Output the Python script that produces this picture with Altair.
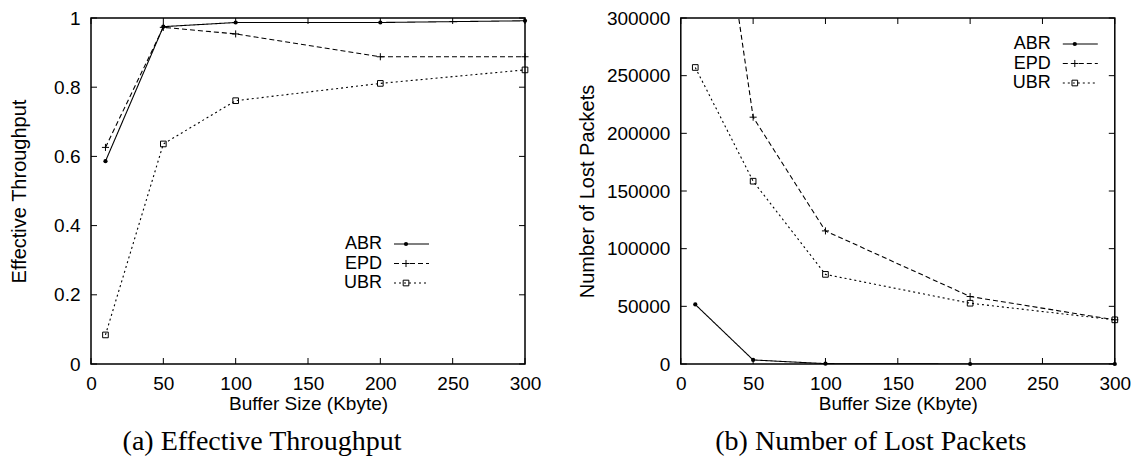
import altair as alt
import pandas as pd

# ---------------- data ----------------
buffer_kb = [10, 50, 100, 200, 300]
series = ["ABR", "EPD", "UBR"]

thr_abr = [0.586, 0.975, 0.987, 0.987, 0.992]
thr_epd = [0.626, 0.973, 0.954, 0.888, 0.888]
thr_ubr = [0.084, 0.636, 0.761, 0.811, 0.850]

lost_abr = [51600, 3500, 300, 0, 0]
lost_epd = [560000, 214000, 115400, 58500, 38300]
lost_ubr = [257100, 158500, 77700, 52700, 38300]

x_ticks = [0, 50, 100, 150, 200, 250, 300]
thr_ticks = [0, 0.2, 0.4, 0.6, 0.8, 1]
lost_ticks = [0, 50000, 100000, 150000, 200000, 250000, 300000]

caption_a = "(a) Effective Throughput"
caption_b = "(b) Number of Lost Packets"
x_title = "Buffer Size (Kbyte)"
thr_title = "Effective Throughput"
lost_title = "Number of Lost Packets"

# ---------------- style ----------------
W, H = 434, 346
FONT = "Liberation Sans"
dash = {"ABR": [1, 0], "EPD": [5, 3], "UBR": [2, 3]}
PLUS = "M-1,0L1,0M0,-1L0,1"
shape = {"ABR": "circle", "EPD": PLUS, "UBR": "square"}
pfill = {"ABR": True, "EPD": False, "UBR": False}
psize = {"ABR": 18, "EPD": 50, "UBR": 32}


def panel(values, ydom, yticks, ytitle, yfmt, caption, cap_x, leg_x, leg_y, tpad):
    xs = alt.Scale(domain=[0, 300], nice=False, zero=False)
    ys = alt.Scale(domain=ydom, nice=False, zero=False)
    xaxis = alt.Axis(title=x_title, values=x_ticks, ticks=False, domain=False, grid=False,
                     labelFontSize=19, titleFontSize=19, labelFont=FONT, titleFont=FONT,
                     labelColor="black", titleColor="black", titleFontWeight="normal",
                     labelPadding=10, titlePadding=1, labelFlush=False)
    yaxis = alt.Axis(title=ytitle, values=yticks, ticks=False, domain=False, grid=False,
                     format=yfmt, labelFontSize=19, titleFontSize=20, labelFont=FONT,
                     titleFont=FONT, labelColor="black", titleColor="black",
                     titleFontWeight="normal", labelPadding=11, titlePadding=tpad,
                     labelFlush=False)
    X = alt.X("x:Q", scale=xs, axis=xaxis)
    Y = alt.Y("y:Q", scale=ys, axis=yaxis)

    layers = []
    for s, vals in zip(series, values):
        df = pd.DataFrame({"x": buffer_kb, "y": vals, "s": s})
        layers.append(alt.Chart(df).mark_line(color="black", strokeWidth=1.1,
                                              strokeDash=dash[s], clip=True).encode(x=X, y=Y))
        layers.append(alt.Chart(df).transform_filter(
            alt.datum.y <= ydom[1]).mark_point(shape=shape[s], filled=pfill[s], size=psize[s],
                                               color="black", strokeWidth=1, opacity=1
                                               ).encode(x=X, y=Y))
    # inward ticks on all four sides
    dfx = pd.DataFrame({"x": x_ticks})
    dfy = pd.DataFrame({"y": yticks})
    L = 6
    layers.append(alt.Chart(dfx).mark_rule(color="black", strokeWidth=1).encode(
        x=X, y=alt.value(H), y2=alt.value(H - L)))
    layers.append(alt.Chart(dfx).mark_rule(color="black", strokeWidth=1).encode(
        x=X, y=alt.value(0), y2=alt.value(L)))
    layers.append(alt.Chart(dfy).mark_rule(color="black", strokeWidth=1).encode(
        y=Y, x=alt.value(0), x2=alt.value(L)))
    layers.append(alt.Chart(dfy).mark_rule(color="black", strokeWidth=1).encode(
        y=Y, x=alt.value(W), x2=alt.value(W - L)))

    # legend (label left of sample, gnuplot style)
    for i, s in enumerate(series):
        yy = leg_y + 19.5 * i
        dfl = pd.DataFrame({"name": [s]})
        layers.append(alt.Chart(dfl).mark_text(align="right", baseline="middle", fontSize=18,
                                               font=FONT, color="black").encode(
            text="name:N", x=alt.value(leg_x), y=alt.value(yy)))
        layers.append(alt.Chart(dfl).mark_rule(color="black", strokeWidth=1.1,
                                               strokeDash=dash[s]).encode(
            x=alt.value(leg_x + 12), x2=alt.value(leg_x + 47), y=alt.value(yy)))
        layers.append(alt.Chart(dfl).mark_point(shape=shape[s], filled=pfill[s], size=psize[s],
                                                color="black", strokeWidth=1, opacity=1).encode(
            x=alt.value(leg_x + 24), y=alt.value(yy)))
    # caption
    layers.append(alt.Chart(pd.DataFrame({"c": [caption]})).mark_text(
        align="center", baseline="alphabetic", fontSize=28, font="Liberation Serif",
        color="black").encode(text="c:N", x=alt.value(cap_x), y=alt.value(H + 86)))

    return alt.layer(*layers).properties(width=W, height=H)


left = panel([thr_abr, thr_epd, thr_ubr], [0, 1], thr_ticks, thr_title, "~g",
             caption_a, 171, 291, 226, 23.6)
right = panel([lost_abr, lost_epd, lost_ubr], [0, 300000], lost_ticks, lost_title, "d",
              caption_b, 190, 370, 26, 8.6)

chart = alt.hconcat(left, right, spacing=34.8).properties(
    padding={"left": 9, "top": 8, "right": 0, "bottom": 0},
    background="white",
).configure_view(stroke="black", strokeWidth=1.5)

chart.save("out.html", embed_options={"renderer": "svg", "actions": False})
